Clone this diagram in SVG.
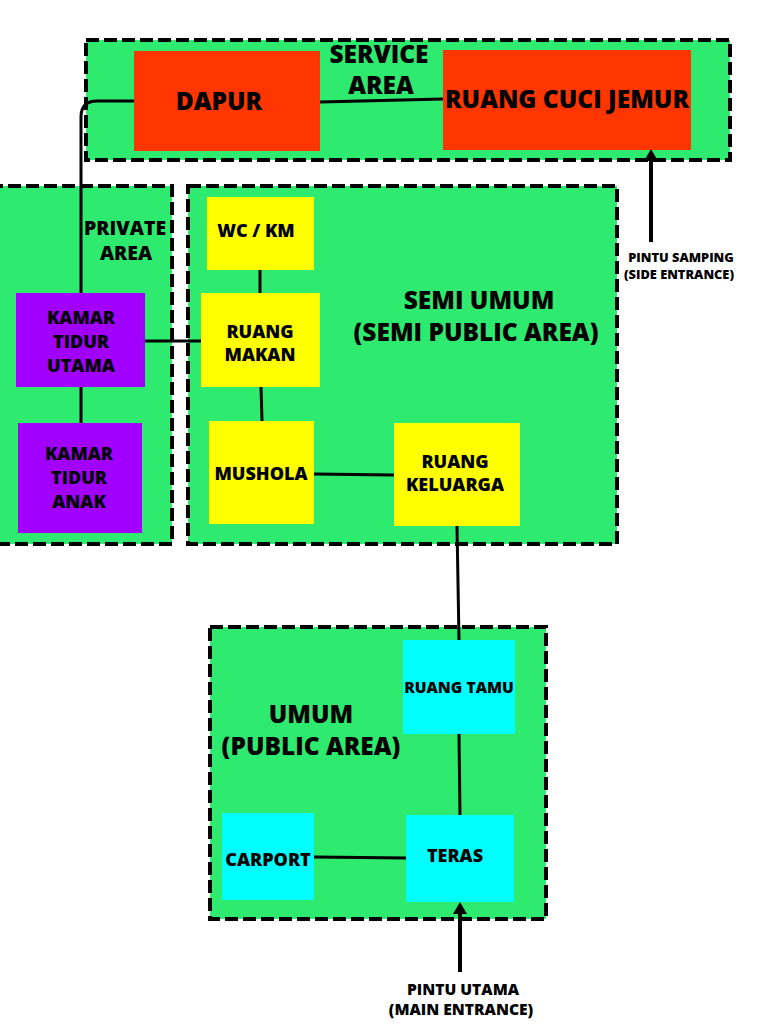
<svg xmlns="http://www.w3.org/2000/svg" width="768" height="1024" viewBox="0 0 768 1024">
<defs>
<style>
.zone{fill:#2EEA6E;stroke:#000;stroke-width:4;stroke-dasharray:13 5}
.red{fill:#FF3600}
.pur{fill:#A100FF}
.yel{fill:#FFFF00}
.cyan{fill:#00FFFF}
text{font-family:"Open Sans","Liberation Sans",sans-serif;font-weight:800;fill:#000;text-anchor:middle}
.big{font-size:24.5px}
.mid{font-size:18px}
.pa{font-size:19.5px}
.sm{font-size:15.6px}
.xs{font-size:12.8px}
.conn{stroke:#000;stroke-width:3;fill:none}
.arr{stroke:#000;stroke-width:4;fill:none}
</style>
<marker id="ah" viewBox="0 0 12 14" refX="2" refY="7" markerUnits="userSpaceOnUse" markerWidth="12" markerHeight="14" orient="auto">
<path d="M0,0 L12,7 L0,14 Z" fill="#000"/>
</marker>
</defs>
<rect width="768" height="1024" fill="#fff"/>

<g id="service-area">
<rect class="zone" x="86" y="40" width="644" height="120"/>
<text class="big" x="379" y="63">SERVICE</text>
<text class="big" x="381" y="94">AREA</text>
</g>
<g id="private-area">
<rect class="zone" x="-10" y="186" width="182" height="358"/>
<text class="pa" x="125" y="235">PRIVATE</text>
<text class="pa" x="126" y="260">AREA</text>
</g>
<g id="semi-public-area">
<rect class="zone" x="188" y="186" width="429" height="358"/>
<text class="big" x="479" y="309">SEMI UMUM</text>
<text class="big" x="476" y="341">(SEMI PUBLIC AREA)</text>
</g>
<g id="public-area">
<rect class="zone" x="210" y="627" width="336" height="292"/>
<text class="big" x="311" y="723">UMUM</text>
<text class="big" x="311" y="755">(PUBLIC AREA)</text>
</g>

<g id="connectors">
<path class="conn" d="M134,101 H97 Q81,101 81,117 V293"/>
<path class="conn" d="M320,102 L443,99"/>
<path class="conn" d="M81,387 V423"/>
<path class="conn" d="M145,341 H201"/>
<path class="conn" d="M260,270 V293"/>
<path class="conn" d="M261,387 L262,421"/>
<path class="conn" d="M314,474 L394,475"/>
<path class="conn" d="M457,526 L459,640"/>
<path class="conn" d="M459,734 L460,815"/>
<path class="conn" d="M314,857 L406,858"/>
<path class="arr" d="M651,242 V159" marker-end="url(#ah)"/>
<path class="arr" d="M460,972 V912" marker-end="url(#ah)"/>
</g>

<g id="dapur"><rect class="red" x="134" y="51" width="186" height="100"/><text class="big" x="219" y="110">DAPUR</text></g>
<g id="ruang-cuci-jemur"><rect class="red" x="443" y="50" width="248" height="100"/><text class="big" x="567" y="108">RUANG CUCI JEMUR</text></g>

<g id="kamar-tidur-utama"><rect class="pur" x="16" y="293" width="129" height="94"/>
<text class="mid" x="81" y="324">KAMAR</text><text class="mid" x="81" y="348">TIDUR</text><text class="mid" x="81" y="372">UTAMA</text></g>
<g id="kamar-tidur-anak"><rect class="pur" x="18" y="423" width="124" height="110"/>
<text class="mid" x="79" y="460">KAMAR</text><text class="mid" x="79" y="484">TIDUR</text><text class="mid" x="79" y="508">ANAK</text></g>

<g id="wc-km"><rect class="yel" x="207" y="197" width="107" height="73"/><text class="mid" x="256" y="237">WC / KM</text></g>
<g id="ruang-makan"><rect class="yel" x="201" y="293" width="119" height="94"/>
<text class="mid" x="260" y="338">RUANG</text><text class="mid" x="260" y="361">MAKAN</text></g>
<g id="mushola"><rect class="yel" x="209" y="421" width="105" height="103"/><text class="mid" x="261" y="480">MUSHOLA</text></g>
<g id="ruang-keluarga"><rect class="yel" x="394" y="423" width="126" height="103"/>
<text class="mid" x="455" y="468">RUANG</text><text class="mid" x="455" y="491">KELUARGA</text></g>

<g id="ruang-tamu"><rect class="cyan" x="403" y="640" width="112" height="94"/><text class="sm" x="459" y="693">RUANG TAMU</text></g>
<g id="carport"><rect class="cyan" x="222" y="813" width="92" height="87"/><text class="mid" x="268" y="866">CARPORT</text></g>
<g id="teras"><rect class="cyan" x="406" y="815" width="108" height="87"/><text class="mid" x="455" y="862">TERAS</text></g>

<g id="side-entrance">
<text class="xs" x="681" y="262">PINTU SAMPING</text>
<text class="xs" x="679" y="279">(SIDE ENTRANCE)</text>
</g>
<g id="main-entrance">
<text class="sm" x="463" y="995">PINTU UTAMA</text>
<text class="sm" x="461" y="1015">(MAIN ENTRANCE)</text>
</g>
</svg>
